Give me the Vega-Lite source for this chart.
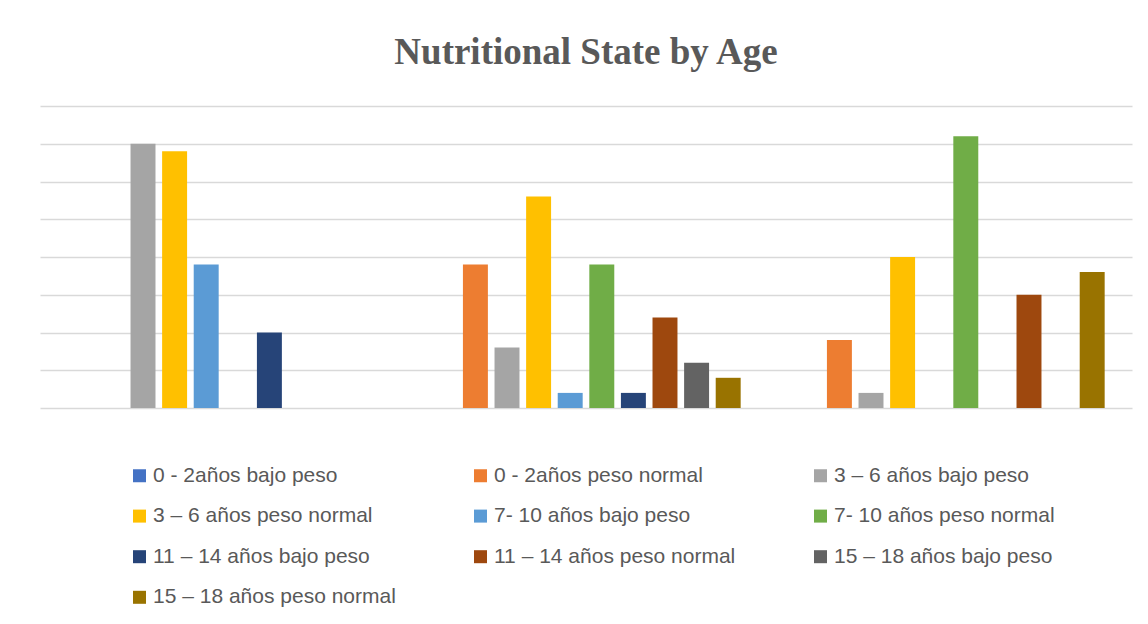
{
  "$schema": "https://vega.github.io/schema/vega-lite/v6.json",
  "width": 1092,
  "height": 302,
  "autosize": {"type": "none"},
  "padding": {"left": 40, "top": 106, "right": 16, "bottom": 216},
  "background": "white",
  "title": {
    "text": "Nutritional State by Age",
    "font": "Liberation Serif",
    "fontSize": 37,
    "fontWeight": "bold",
    "color": "#595959",
    "anchor": "middle",
    "offset": 34
  },
  "data": {
    "values": [
      {"grupo": "1", "serie": "0 - 2años bajo peso", "valor": 0},
      {"grupo": "1", "serie": "0 - 2años peso normal", "valor": 0},
      {"grupo": "1", "serie": "3 – 6 años bajo peso", "valor": 7.0},
      {"grupo": "1", "serie": "3 – 6 años peso normal", "valor": 6.8},
      {"grupo": "1", "serie": "7- 10 años bajo peso", "valor": 3.8},
      {"grupo": "1", "serie": "7- 10 años peso normal", "valor": 0},
      {"grupo": "1", "serie": "11 – 14 años bajo peso", "valor": 2.0},
      {"grupo": "1", "serie": "11 – 14 años peso normal", "valor": 0},
      {"grupo": "1", "serie": "15 – 18 años bajo peso", "valor": 0},
      {"grupo": "1", "serie": "15 – 18 años peso normal", "valor": 0},
      {"grupo": "2", "serie": "0 - 2años bajo peso", "valor": 0},
      {"grupo": "2", "serie": "0 - 2años peso normal", "valor": 3.8},
      {"grupo": "2", "serie": "3 – 6 años bajo peso", "valor": 1.6},
      {"grupo": "2", "serie": "3 – 6 años peso normal", "valor": 5.6},
      {"grupo": "2", "serie": "7- 10 años bajo peso", "valor": 0.4},
      {"grupo": "2", "serie": "7- 10 años peso normal", "valor": 3.8},
      {"grupo": "2", "serie": "11 – 14 años bajo peso", "valor": 0.4},
      {"grupo": "2", "serie": "11 – 14 años peso normal", "valor": 2.4},
      {"grupo": "2", "serie": "15 – 18 años bajo peso", "valor": 1.2},
      {"grupo": "2", "serie": "15 – 18 años peso normal", "valor": 0.8},
      {"grupo": "3", "serie": "0 - 2años bajo peso", "valor": 0},
      {"grupo": "3", "serie": "0 - 2años peso normal", "valor": 1.8},
      {"grupo": "3", "serie": "3 – 6 años bajo peso", "valor": 0.4},
      {"grupo": "3", "serie": "3 – 6 años peso normal", "valor": 4.0},
      {"grupo": "3", "serie": "7- 10 años bajo peso", "valor": 0},
      {"grupo": "3", "serie": "7- 10 años peso normal", "valor": 7.2},
      {"grupo": "3", "serie": "11 – 14 años bajo peso", "valor": 0},
      {"grupo": "3", "serie": "11 – 14 años peso normal", "valor": 3.0},
      {"grupo": "3", "serie": "15 – 18 años bajo peso", "valor": 0},
      {"grupo": "3", "serie": "15 – 18 años peso normal", "valor": 3.6}
    ]
  },
  "mark": {"type": "bar"},
  "encoding": {
    "x": {
      "field": "grupo",
      "type": "nominal",
      "axis": null,
      "scale": {"paddingInner": 0, "paddingOuter": 0}
    },
    "xOffset": {
      "field": "serie",
      "type": "nominal",
      "sort": null,
      "scale": {
        "domain": ["0 - 2años bajo peso", "0 - 2años peso normal", "3 – 6 años bajo peso", "3 – 6 años peso normal", "7- 10 años bajo peso", "7- 10 años peso normal", "11 – 14 años bajo peso", "11 – 14 años peso normal", "15 – 18 años bajo peso", "15 – 18 años peso normal"],
        "paddingInner": 0.21,
        "paddingOuter": 0.865
      }
    },
    "y": {
      "field": "valor",
      "type": "quantitative",
      "scale": {"domain": [0, 8], "nice": false},
      "axis": {
        "title": null,
        "labels": false,
        "ticks": false,
        "domain": false,
        "grid": true,
        "values": [0, 1, 2, 3, 4, 5, 6, 7, 8],
        "gridColor": "#d9d9d9",
        "gridWidth": 1.5
      }
    },
    "color": {
      "field": "serie",
      "type": "nominal",
      "sort": null,
      "scale": {
        "domain": ["0 - 2años bajo peso", "0 - 2años peso normal", "3 – 6 años bajo peso", "3 – 6 años peso normal", "7- 10 años bajo peso", "7- 10 años peso normal", "11 – 14 años bajo peso", "11 – 14 años peso normal", "15 – 18 años bajo peso", "15 – 18 años peso normal"],
        "range": ["#4472C4", "#ED7D31", "#A5A5A5", "#FFC000", "#5B9BD5", "#70AD47", "#264478", "#9E480E", "#636363", "#997300"]
      },
      "legend": {
        "title": null,
        "orient": "none",
        "legendX": 89,
        "legendY": 359,
        "direction": "horizontal",
        "columns": 3,
        "columnPadding": 74,
        "rowPadding": 18.6,
        "symbolType": "square",
        "symbolSize": 169,
        "symbolStrokeWidth": 0,
        "labelFont": "Liberation Sans",
        "labelFontSize": 21,
        "labelColor": "#595959",
        "labelOffset": 3,
        "labelLimit": 400
      }
    }
  },
  "config": {"view": {"stroke": null}}
}
